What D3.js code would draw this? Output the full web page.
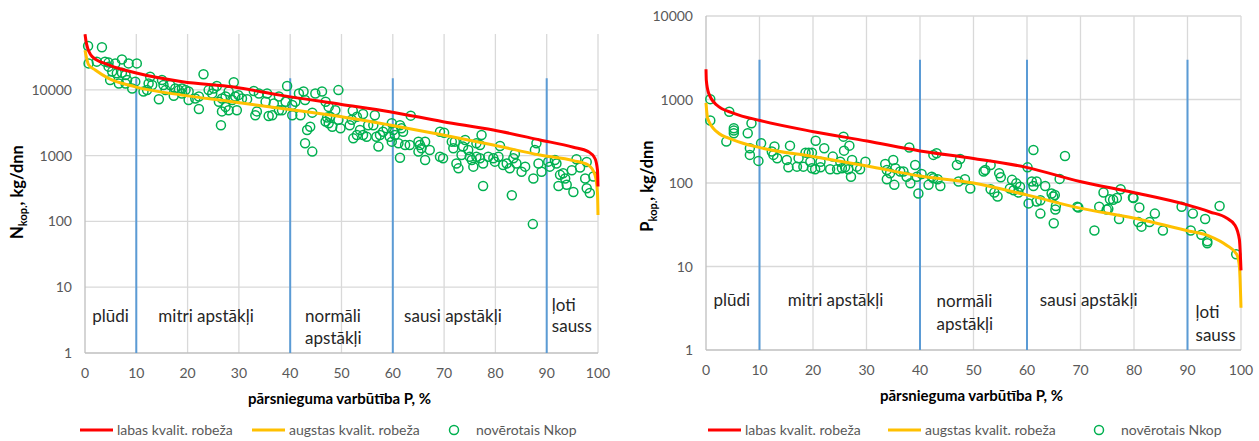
<!DOCTYPE html>
<html>
<head>
<meta charset="utf-8">
<script src="https://cdn.jsdelivr.net/npm/d3@7"></script>
<style>
  body { margin: 0; background: #fff; }
  text { font-family: Lato, "Liberation Sans", sans-serif; }
</style>
</head>
<body>
<svg id="chart" width="1259" height="441"></svg>
<script>
// axis ticks
var xTicks = [0, 10, 20, 30, 40, 50, 60, 70, 80, 90, 100];
var yTicks = [1, 10, 100, 1000, 10000];
var zoneBounds = [10, 40, 60, 90];

// zone labels: [x, value, text]
var nZoneLabels = [
    [1.4, 3.5, "plūdi"],
    [14.3, 3.5, "mitri apstākļi"],
    [42.9, 3.5, "normāli"],
    [42.9, 1.58, "apstākļi"],
    [62.2, 3.5, "sausi apstākļi"],
    [91.0, 5.0, "ļoti"],
    [91.0, 2.4, "sauss"]
];
var pZoneLabels = [
    [1.4, 3.8, "plūdi"],
    [15.3, 3.8, "mitri apstākļi"],
    [43.1, 3.7, "normāli"],
    [43.1, 1.95, "apstākļi"],
    [62.4, 3.8, "sausi apstākļi"],
    [91.5, 2.75, "ļoti"],
    [91.5, 1.45, "sauss"]
];

// nitrogen: quality limits (x %, kg/dnn)
var nGoodLimit = [[0,70000],[0.3,50000],[1.4,32000],[4.6,24000],[10,18000],[19,13300],[29,11000],[38,8300],[50,6000],[59.4,4650],[69.8,3280],[79.6,2450],[88.7,1730],[95.2,1340],[98.1,1150],[99.4,910],[99.9,600],[100,340]];
var nHighLimit = [[0,40000],[0.7,24000],[2,20000],[4.6,14900],[9.8,11100],[18.9,8300],[28.7,6600],[38.4,5200],[50,3900],[59.4,2920],[69.8,2060],[79.6,1450],[88.7,1020],[95.2,840],[98.1,720],[99.4,510],[99.9,270],[100,125]];
var nObserved = [[0.6,46400],[3.3,44300],[0.7,25200],[2.3,26800],[3.9,26800],[4.6,25900],[5.9,25200],[7.2,29000],[8.5,25200],[10.1,25200],[4.6,22500],[5.3,18900],[6.2,17800],[4.9,14100],[6.6,12500],[7.9,12500],[9.2,10500],[8.2,14100],[9.8,13300],[7.2,18200],[7.9,16800],[12.7,15800],[12.4,12500],[13.1,11800],[11.4,9400],[12.1,9900],[14.4,7200],[15.0,14100],[15.3,11800],[15.7,9900],[16.6,11800],[17.3,8100],[17.6,10500],[18.3,9900],[18.9,10500],[19.6,9900],[20.2,9400],[18.9,8800],[20.2,7000],[21.5,7400],[22.2,7900],[22.2,5100],[23.1,17200],[24.1,9900],[25.1,10500],[25.7,11400],[24.8,8800],[26.1,6600],[26.7,7400],[27.4,7900],[28.0,9400],[29.0,13000],[28.7,7000],[29.3,7900],[28.0,4900],[26.7,4700],[27.4,5500],[29.6,4900],[29.9,8300],[30.6,7400],[31.6,7200],[32.9,9600],[33.9,8800],[35.5,8800],[33.2,4100],[33.5,4700],[35.2,6600],[35.8,4000],[36.5,4100],[36.8,6200],[37.8,4900],[38.4,4900],[37.8,7900],[39.4,11400],[39.1,6600],[40.4,5900],[40.4,4100],[41.0,6600],[41.7,8800],[42.6,9400],[42.0,4100],[42.9,7000],[43.3,2450],[43.9,2750],[42.9,1540],[44.3,1150],[44.9,8800],[46.2,9400],[46.9,6600],[47.5,5500],[44.3,4500],[47.2,3800],[47.8,3900],[48.8,4900],[49.4,9900],[49.4,3500],[49.8,2600],[47.5,3100],[48.2,2750],[46.9,3300],[26.5,2900],
    [52.2,4800],[51.6,2900],[52.0,3500],[53.0,3900],[54.2,4300],[56.5,4100],[52.3,1830],[53.0,2060],[53.6,2450],[54.2,2060],[54.9,1940],[55.2,2900],[56.2,2900],[56.8,1940],[57.5,2060],[58.1,2310],[57.2,1370],[58.8,2600],[59.4,1940],[59.8,3100],[60.1,2450],[60.4,2060],[61.4,2900],[61.7,2600],[62.0,2310],[59.8,1630],[61.1,1540],[62.4,1450],[61.4,930],[63.5,4050],[63.3,1450],[65.0,1630],[65.3,1450],[65.6,1290],[65.0,1150],[66.3,1630],[67.2,1220],[66.3,860],[69.2,2310],[70.0,2230],[69.2,960],[69.8,910],[71.5,1630],[72.1,1630],[71.8,1290],[74.1,1730],[73.7,1370],[73.4,1020],[72.4,760],[72.8,640],[74.7,1220],[75.0,960],[75.4,860],[75.7,680],[76.3,1540],[77.0,1450],[77.3,2060],[76.3,960],[77.0,910],[77.6,760],[78.6,960],[79.6,910],[79.9,810],[80.6,960],[80.9,1400],[81.5,720],[82.2,760],[82.8,640],[83.5,910],[83.8,1060],[84.1,760],[85.1,570],[85.8,680],[87.4,450],[87.7,1220],[88.0,1540],[88.4,760],[89.0,570],[90.3,810],[90.6,680],[91.6,860],[91.9,760],[92.6,510],[93.2,540],[93.6,450],[92.3,345],[93.9,360],[95.2,280],[94.9,600],[95.8,880],[96.5,660],[97.8,800],[97.5,450],[97.8,320],[98.4,270],[99.1,480],[77.6,345],[83.2,250],[87.3,91]];

// phosphorus
var pGoodLimit = [[0,2300],[0.06,1700],[0.5,1190],[2,860],[5.2,684],[10.1,560],[20.1,412],[30.1,318],[40,242],[50,197],[59.9,154],[69.9,104],[79.9,77],[89.8,55],[94.2,45],[97.3,38],[98.9,31],[99.7,21],[100,9]];
var pHighLimit = [[0,910],[0.3,596],[2,412],[5.2,327],[10.1,265],[20.1,207],[30.1,160],[40,121],[50,100],[59.9,72],[69.9,50],[79.9,38],[89.8,27],[94.2,23],[97.3,18],[99.2,14],[99.7,10],[100,3.2]];
var pObserved = [[0.8,1010],[0.8,560],[4.35,715],[3.8,313],[5.2,452],[5.2,394],[5.2,424],[7.8,394],[8.5,519],[8.2,261],[8.2,217],[9.8,184],[10.3,299],[12.8,273],[12.3,238],[12.6,217],[13.3,198],[15.1,189],[15.7,280],[15.4,154],[17.3,198],[17.0,157],[18.6,231],[19.2,231],[19.8,231],[18.2,157],[19.5,180],[19.8,150],[20.4,146],[20.5,321],[21.4,180],[21.4,154],[22.1,261],[23.2,146],[23.7,207],[24.5,146],[25.1,180],[25.7,359],[25.8,244],[26.8,280],[25.4,150],[26.0,154],[27.3,189],[26.6,146],[27.1,119],[28.2,157],[28.8,146],[29.8,180],[33.5,169],[35.0,189],[33.8,143],[34.4,131],[33.8,111],[35.2,95],[35.4,150],[36.3,137],[36.9,137],[37.5,119],[38.2,99],[38.0,266],[39.1,164],[39.4,119],[39.7,75],[40.3,128],[41.6,95],[42.2,119],[42.5,114],[43.3,111],[43.8,92],[42.5,217],[43.1,227],[46.9,164],[47.5,194],[47.2,104],[48.4,111],[49.4,86],
    [51.9,137],[52.2,143],[53.2,164],[53.2,84],[53.9,77],[54.5,69],[54.8,131],[55.1,117],[57.2,109],[56.8,86],[57.5,82],[58.0,99],[58.4,77],[58.7,90],[60.1,154],[61.2,248],[60.9,104],[61.8,104],[61.2,92],[60.3,57],[61.8,60],[62.5,62],[62.5,43],[63.4,92],[64.6,75],[65.2,72],[64.9,69],[65.4,53],[65.3,48],[65.0,33],[66.1,112],[67.1,211],[69.4,52],[69.6,51],[72.6,27],[73.5,52],[74.3,77],[74.9,48],[75.2,49],[75.5,64],[76.1,63],[76.8,66],[77.5,84],[77.2,37],[79.8,67],[79.9,66],[81.0,51],[80.8,34],[81.4,30],[82.9,34],[83.9,43],[85.4,27],[88.9,52],[90.6,27],[91.0,43],[92.6,24],[93.3,37],[93.7,20],[93.7,19],[96.0,53],[99.1,14]];

var legendNames = ["labas kvalit. robeža", "augstas kvalit. robeža", "novērotais Nkop"];

var svg = d3.select("#chart");
svg.append("rect").attr("width", 1259).attr("height", 441).attr("fill", "#fff");

function drawPanel(opt) {
    var x = d3.scaleLinear().domain([0, 100]).range([opt.left, opt.right]);
    var y = d3.scaleLog().domain([1, opt.yMax]).range([opt.bottom, opt.top]);
    var g = svg.append("g");

    // grid
    g.selectAll(".vgrid").data(xTicks.slice(1)).enter()
        .append("line")
        .attr("x1", d => x(d)).attr("x2", d => x(d))
        .attr("y1", opt.top).attr("y2", opt.bottom)
        .attr("stroke", "#d9d9d9").attr("stroke-width", 1.3);
    g.selectAll(".hgrid").data(yTicks.slice(1)).enter()
        .append("line")
        .attr("x1", opt.left).attr("x2", opt.right)
        .attr("y1", d => y(d)).attr("y2", d => y(d))
        .attr("stroke", "#d9d9d9").attr("stroke-width", 1.3);

    // axis lines
    g.append("line").attr("x1", opt.left).attr("x2", opt.left)
        .attr("y1", opt.top).attr("y2", opt.bottom)
        .attr("stroke", "#bfbfbf").attr("stroke-width", 1.3);
    g.append("line").attr("x1", opt.left).attr("x2", opt.right)
        .attr("y1", opt.bottom).attr("y2", opt.bottom)
        .attr("stroke", "#bfbfbf").attr("stroke-width", 1.3);

    // tick labels
    g.selectAll(".xl").data(xTicks).enter()
        .append("text")
        .attr("x", d => x(d)).attr("y", opt.bottom + 25)
        .attr("text-anchor", "middle").attr("font-size", 14).attr("fill", "#595959")
        .text(d => d);
    g.selectAll(".yl").data(yTicks).enter()
        .append("text")
        .attr("x", opt.left - 13).attr("y", d => y(d) + 5)
        .attr("text-anchor", "end").attr("font-size", 14).attr("fill", "#595959")
        .text(d => d);

    // zone boundaries
    g.selectAll(".zone").data(zoneBounds).enter()
        .append("line")
        .attr("x1", d => x(d)).attr("x2", d => x(d))
        .attr("y1", y(1)).attr("y2", y(opt.zoneTop))
        .attr("stroke", "#5b9bd5").attr("stroke-width", 2);

    // zone labels
    g.selectAll(".zl").data(opt.zoneLabels).enter()
        .append("text")
        .attr("x", d => x(d[0])).attr("y", d => y(d[1]))
        .attr("dominant-baseline", "middle")
        .attr("font-size", 17).attr("fill", "#262626")
        .text(d => d[2]);

    // observed points
    g.selectAll(".pt").data(opt.observed).enter()
        .append("circle")
        .attr("cx", d => x(d[0])).attr("cy", d => y(d[1]))
        .attr("r", 4.5)
        .attr("fill", "none").attr("stroke", "#00b050").attr("stroke-width", 1.5);

    // limit curves
    var line = d3.line()
        .x(d => x(d[0])).y(d => y(d[1]))
        .curve(d3.curveMonotoneX);
    g.append("path").datum(opt.high).attr("d", line)
        .attr("fill", "none").attr("stroke", "#ffc000").attr("stroke-width", 3);
    g.append("path").datum(opt.good).attr("d", line)
        .attr("fill", "none").attr("stroke", "#ff0000").attr("stroke-width", 3);

    // axis titles
    var cx = (opt.left + opt.right) / 2;
    g.append("text").attr("x", cx - 2).attr("y", opt.bottom + 51)
        .attr("text-anchor", "middle").attr("font-size", 15).attr("font-weight", "bold")
        .attr("fill", "#000")
        .text("pārsnieguma varbūtība P, %");
    var yt = g.append("text")
        .attr("transform", "translate(" + opt.yTitleX + "," + opt.yTitleY + ") rotate(-90)")
        .attr("text-anchor", "middle").attr("font-size", 16.5).attr("font-weight", "bold")
        .attr("fill", "#000");
    yt.append("tspan").text(opt.yLetter);
    yt.append("tspan").attr("dy", 4).attr("font-size", 11).text("kop.");
    yt.append("tspan").attr("dy", -4).text(", kg/dnn");

    // legend
    var ly = 430;
    var lg = g.append("g").attr("font-size", 14).attr("fill", "#595959");
    lg.append("line").attr("x1", opt.legX[0]).attr("x2", opt.legX[0] + 33)
        .attr("y1", ly).attr("y2", ly).attr("stroke", "#ff0000").attr("stroke-width", 3);
    lg.append("text").attr("x", opt.legX[0] + 37).attr("y", ly + 5).text(legendNames[0]);
    lg.append("line").attr("x1", opt.legX[1]).attr("x2", opt.legX[1] + 33)
        .attr("y1", ly).attr("y2", ly).attr("stroke", "#ffc000").attr("stroke-width", 3);
    lg.append("text").attr("x", opt.legX[1] + 37).attr("y", ly + 5).text(legendNames[1]);
    lg.append("circle").attr("cx", opt.legX[2]).attr("cy", ly).attr("r", 4.5)
        .attr("fill", "none").attr("stroke", "#00b050").attr("stroke-width", 1.5);
    lg.append("text").attr("x", opt.legX[2] + 22).attr("y", ly + 5).text(legendNames[2]);
}

drawPanel({
    left: 85, right: 598, top: 34, bottom: 353, yMax: 70500,
    zoneTop: 15000,
    zoneLabels: nZoneLabels,
    observed: nObserved, good: nGoodLimit, high: nHighLimit,
    yLetter: "N", yTitleX: 23, yTitleY: 192,
    legX: [80, 252, 454]
});

drawPanel({
    left: 706, right: 1241, top: 16, bottom: 350, yMax: 10000,
    zoneTop: 3000,
    zoneLabels: pZoneLabels,
    observed: pObserved, good: pGoodLimit, high: pHighLimit,
    yLetter: "P", yTitleX: 653, yTitleY: 186,
    legX: [708, 888, 1099]
});
</script>
</body>
</html>
